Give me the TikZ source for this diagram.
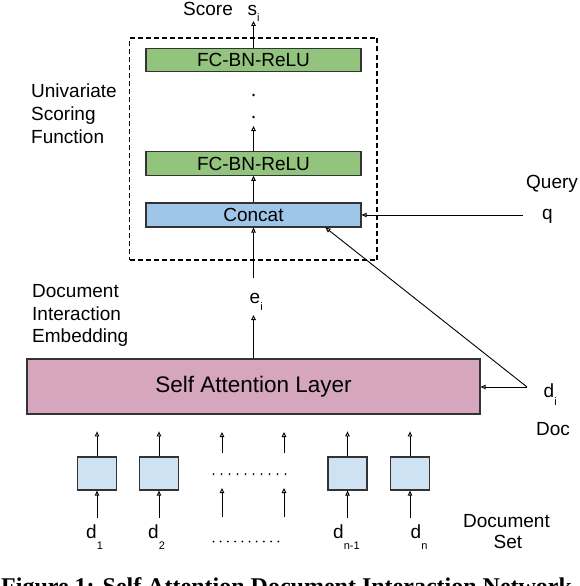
\documentclass[tikz,border=0pt]{standalone}
\usepackage{fontspec}
\setmainfont{Liberation Sans}
\newfontfamily\capfont{Liberation Serif}
\usetikzlibrary{arrows.meta,calc}
\definecolor{fcgreen}{HTML}{93C47D}
\definecolor{catblue}{HTML}{9FC5E8}
\definecolor{salpink}{HTML}{D5A6BD}
\definecolor{embblue}{HTML}{CFE2F3}
\definecolor{edgegray}{HTML}{333333}
\newcommand\subsc[2]{\raisebox{-#1}{\fontsize{11}{11}\selectfont #2}}
\begin{document}
\begin{tikzpicture}[x=1pt,y=-1pt,
  txt/.style={font=\fontsize{19}{23}\selectfont, inner sep=0pt, anchor=base west},
  layerbox/.style={draw=edgegray, line width=1.2pt, inner sep=0pt},
  fcbox/.style={layerbox, fill=fcgreen, minimum width=215pt, minimum height=23.5pt, font=\fontsize{19}{19}\selectfont},
  catbox/.style={layerbox, fill=catblue, minimum width=215pt, minimum height=24pt, font=\fontsize{19}{19}\selectfont},
  salbox/.style={layerbox, fill=salpink, minimum width=453pt, minimum height=55pt, font=\fontsize{22.5}{22.5}\selectfont},
  embbox/.style={layerbox, fill=embblue, minimum width=39pt, minimum height=33pt},
  framebox/.style={draw=black, dash pattern=on 5pt off 3pt, line width=1.1pt, inner sep=0pt, minimum width=247.5pt, minimum height=222pt},
  arr/.style={-{Triangle[open,length=5pt,width=4.5pt]}, line width=0.9pt},
  dotmark/.style={fill=black}
]
\useasboundingbox (0,0) rectangle (580,586);

% dashed frame of the scoring function
\node[framebox] (usf) at (253.25,149) {};

% layers
\node[fcbox] (fc1) at (253.5,60) {FC-BN-ReLU};
\node[fcbox] (fc2) at (253.5,163.5) {FC-BN-ReLU};
\node[catbox] (concat) at (253.5,215) {Concat};
\node[salbox] (sal) at (253.5,386.5) {Self Attention Layer};

% document encoders
\node[embbox] (b1) at (97,473.5) {};
\node[embbox] (b2) at (159,473.5) {};
\node[embbox] (b3) at (347.5,473.5) {};
\node[embbox] (b4) at (410,473.5) {};

% labels
\node[txt] (score) at (183,16) {Score};
\node[txt] (si) at (247.5,16) {s\subsc{6pt}{i}};
\node[txt] (usflbl1) at (31,97) {Univariate};
\node[txt] (usflbl2) at (31,120) {Scoring};
\node[txt] (usflbl3) at (31,143) {Function};
\node[txt] (dielbl1) at (32,297) {Document};
\node[txt] (dielbl2) at (32,320) {Interaction};
\node[txt] (dielbl3) at (32,342) {Embedding};
\node[txt] (ei) at (249.5,303) {e\subsc{7pt}{i}};
\node[txt] (query) at (526,188) {Query};
\node[txt] (q) at (542,219) {q};
\node[txt] (di) at (543.5,397) {d\subsc{8pt}{i}};
\node[txt] (doc) at (536,435) {Doc};
\node[txt] (d1) at (86,538) {d\subsc{11pt}{1}};
\node[txt] (d2) at (148,538) {d\subsc{11pt}{2}};
\node[txt] (dn1) at (333,538) {d\subsc{11pt}{n-1}};
\node[txt] (dn) at (410.5,538) {d\subsc{11pt}{n}};
\node[txt] (ds1) at (463,527) {Document};
\node[txt] (ds2) at (493.5,548) {Set};

% coordinates for free ends
\coordinate (sitip) at (253.5,21);
\coordinate (dotstip) at (253.5,126);
\coordinate (eitop) at (253.5,278);
\coordinate (eibot) at (253.5,315);
\coordinate (qend) at (523,215);
\coordinate (dij) at (527,387);
\coordinate (catin) at ($(concat.south west)!0.833!(concat.south east)$);

% vertical dots between FC layers
\fill[dotmark] (253.5,95) circle (1.3pt);
\fill[dotmark] (253.5,117) circle (1.3pt);

% scoring connectors
\draw[arr] (fc1.north) -- (sitip);
\draw[arr] (fc2.north) -- (dotstip);
\draw[arr] (concat.north) -- (fc2.south);
\draw[arr] (eitop) -- (concat.south);
\draw[arr] (sal.north) -- (eibot);
\draw[arr] (qend) -- (concat.east);
\draw[arr] (dij) -- (sal.east |- dij);
\draw[arr] (dij) -- (catin);

% encoder connectors
\foreach \b in {b1,b2,b3,b4}{
  \draw[arr] (\b.north) -- ++(0,-25);
  \draw[arr] ($(\b.south)+(0,27)$) -- (\b.south);
}
\foreach \x in {222,284}{
  \coordinate (up\x) at (\x,453);
  \coordinate (lo\x) at (\x,517);
  \draw[arr] (up\x) -- ++(0,-21);
  \draw[arr] (lo\x) -- ++(0,-29);
}
% horizontal dots
\foreach \i in {0,...,9}{
  \fill[dotmark] (213.5+\i*8,474) circle (1pt);
  \fill[dotmark] (213.5+\i*7.2,541.5) circle (1pt);
}

% caption (cut by the frame, as in the reference)
\begin{scope}
  \clip (0,0) rectangle (580,586);
  \node[anchor=base west, inner sep=0pt, font=\capfont\bfseries\fontsize{24}{24}\selectfont] (cap) at (1,594) {Figure 1: Self Attention Document Interaction Network};
\end{scope}
\end{tikzpicture}
\end{document}
